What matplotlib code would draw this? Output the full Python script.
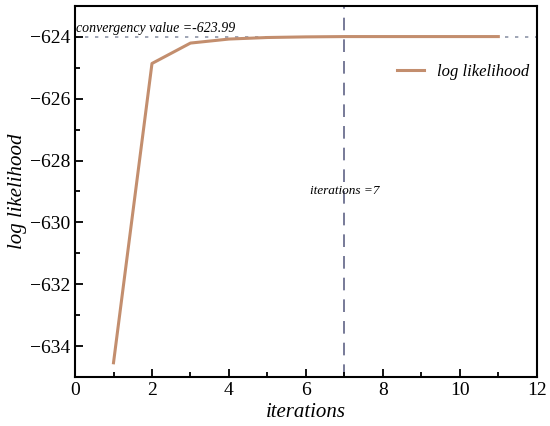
import matplotlib
matplotlib.use("Agg")
import matplotlib.pyplot as plt
from matplotlib.ticker import MultipleLocator

iterations = [1, 2, 3, 4, 5, 6, 7, 8, 9, 10, 11]
log_likelihood = [-634.54, -624.86, -624.20, -624.07, -624.02, -624.00,
                  -623.99, -623.99, -623.99, -623.99, -623.99]
convergency_value = -623.99
converged_iter = 7

plt.rcParams['font.family'] = ['Liberation Serif', 'DejaVu Serif']
plt.rcParams['mathtext.fontset'] = 'stix'

fig = plt.figure(figsize=(5.5, 4.26), dpi=100)
ax = fig.add_axes([0.1364, 0.115, 0.8396, 0.871])

ax.axhline(convergency_value, color='#8d95a8', linestyle=(0, (2, 4)), linewidth=1.2, zorder=1)
ax.axvline(converged_iter, color='#6c6f90', linestyle=(0, (7, 5)), linewidth=1.3, zorder=1)
ax.plot(iterations, log_likelihood, color='#c38e6e', linewidth=2.2, label='log likelihood', zorder=3)

ax.text(0.02, convergency_value + 0.05, 'convergency value =-623.99', fontsize=10,
        style='italic', ha='left', va='bottom')
ax.text(converged_iter, -629.0, 'iterations =7', fontsize=9.5, style='italic',
        ha='center', va='center')

ax.set_xlim(0, 12)
ax.set_ylim(-635.0, -623.0)
ax.xaxis.set_major_locator(MultipleLocator(2))
ax.xaxis.set_minor_locator(MultipleLocator(1))
ax.yaxis.set_major_locator(MultipleLocator(2))
ax.yaxis.set_minor_locator(MultipleLocator(1))
ax.tick_params(which='both', direction='in', top=False, right=False, width=1.3)
ax.tick_params(which='major', length=6, labelsize=14)
ax.tick_params(which='minor', length=3.5)
for s in ax.spines.values():
    s.set_linewidth(1.5)

ax.set_xlabel('iterations', fontsize=15, style='italic', labelpad=3)
ax.set_ylabel('log likelihood', fontsize=15, style='italic', labelpad=2)

leg = ax.legend(loc='upper right', bbox_to_anchor=(1.017, 0.885), frameon=False,
                prop={'style': 'italic', 'size': 12}, handlelength=1.6)

fig.savefig('out.png', dpi=100)
